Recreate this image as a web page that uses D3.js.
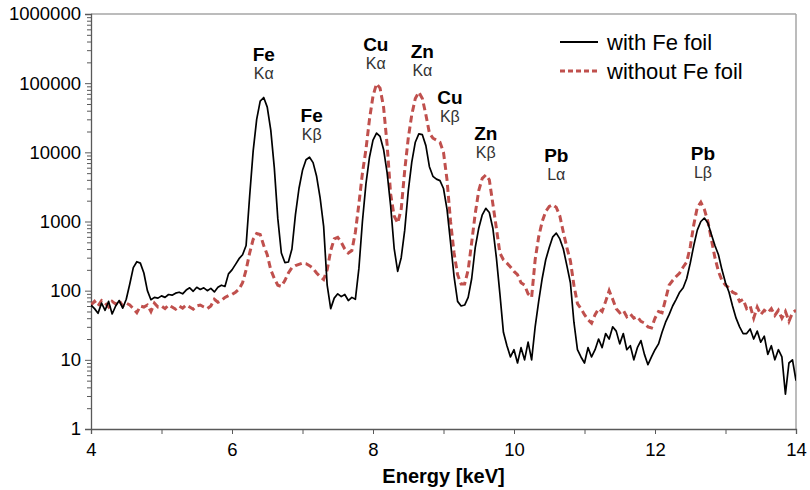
<!DOCTYPE html>
<html>
<head>
<meta charset="utf-8">
<script src="https://cdn.jsdelivr.net/npm/d3@7"></script>
<style>
  body { margin: 0; background: #fff; }
  svg { font-family: "Liberation Sans", Arial, sans-serif; }
  .tick text { fill: #000; }
</style>
</head>
<body>
<div id="chart"></div>
<script>
// energy grid, keV
const energy = [
  4.00, 4.05, 4.10, 4.15, 4.20, 4.25, 4.30, 4.35, 4.40, 4.45,
  4.50, 4.55, 4.60, 4.65, 4.70, 4.75, 4.80, 4.85, 4.90, 4.95,
  5.00, 5.05, 5.10, 5.15, 5.20, 5.25, 5.30, 5.35, 5.40, 5.45,
  5.50, 5.55, 5.60, 5.65, 5.70, 5.75, 5.80, 5.85, 5.90, 5.95,
  6.00, 6.05, 6.10, 6.15, 6.20, 6.25, 6.30, 6.35, 6.40, 6.45,
  6.50, 6.55, 6.60, 6.65, 6.70, 6.75, 6.80, 6.85, 6.90, 6.95,
  7.00, 7.05, 7.10, 7.15, 7.20, 7.25, 7.30, 7.35, 7.40, 7.45,
  7.50, 7.55, 7.60, 7.65, 7.70, 7.75, 7.80, 7.85, 7.90, 7.95,
  8.00, 8.05, 8.10, 8.15, 8.20, 8.25, 8.30, 8.35, 8.40, 8.45,
  8.50, 8.55, 8.60, 8.65, 8.70, 8.75, 8.80, 8.85, 8.90, 8.95,
  9.00, 9.05, 9.10, 9.15, 9.20, 9.25, 9.30, 9.35, 9.40, 9.45,
  9.50, 9.55, 9.60, 9.65, 9.70, 9.75, 9.80, 9.85, 9.90, 9.95,
  10.00, 10.05, 10.10, 10.15, 10.20, 10.25, 10.30, 10.35, 10.40, 10.45,
  10.50, 10.55, 10.60, 10.65, 10.70, 10.75, 10.80, 10.85, 10.90, 10.95,
  11.00, 11.05, 11.10, 11.15, 11.20, 11.25, 11.30, 11.35, 11.40, 11.45,
  11.50, 11.55, 11.60, 11.65, 11.70, 11.75, 11.80, 11.85, 11.90, 11.95,
  12.00, 12.05, 12.10, 12.15, 12.20, 12.25, 12.30, 12.35, 12.40, 12.45,
  12.50, 12.55, 12.60, 12.65, 12.70, 12.75, 12.80, 12.85, 12.90, 12.95,
  13.00, 13.05, 13.10, 13.15, 13.20, 13.25, 13.30, 13.35, 13.40, 13.45,
  13.50, 13.55, 13.60, 13.65, 13.70, 13.75, 13.80, 13.85, 13.90, 13.95,
  14.00
];

// counts with Fe foil
const withFoil = [
  62, 55, 47, 66, 52, 70, 46, 60, 72, 56,
  75, 125, 215, 262, 250, 180, 100, 74, 80, 78,
  84, 80, 88, 86, 92, 95, 90, 102, 110, 98,
  112, 104, 110, 100, 108, 96, 112, 120, 115, 175,
  200, 240, 290, 330, 450, 2300, 10400, 30000, 55000, 62000,
  45000, 21000, 6000, 1100, 350, 255, 260, 400, 1260, 3000,
  5500, 7800, 8500, 7100, 4500, 2200, 850, 120, 55, 78,
  90, 82, 88, 72, 80, 75, 210, 1000, 3500, 8500,
  15000, 19000, 17000, 11000, 5100, 1700, 410, 190, 300, 750,
  2750, 7200, 14000, 18500, 18000, 12500, 6200, 4500, 4100, 3900,
  3000, 1500, 500, 160, 70, 60, 62, 80, 150, 420,
  800, 1250, 1550, 1350, 800, 300, 90, 25, 16, 11,
  14, 9, 15, 10, 18, 10, 30, 70, 150, 280,
  420, 600, 680, 560, 400, 230, 130, 35, 14, 11,
  9, 15, 11, 14, 20, 15, 24, 20, 30, 26,
  17, 24, 14, 16, 10, 15, 19, 12, 8.5, 11,
  14, 17, 25, 35, 45, 60, 75, 95, 110, 150,
  250, 450, 750, 1000, 1120, 950, 650, 450, 330, 200,
  130, 95, 60, 40, 30, 24, 24, 28, 20, 26,
  18, 22, 12, 16, 10, 14, 11, 3.2, 9, 10,
  5
];

// counts without Fe foil
const withoutFoil = [
  62, 70, 60, 72, 66, 58, 70, 64, 72, 60,
  66, 62, 55, 48, 60, 58, 62, 50, 66, 58,
  60, 55, 62, 58, 54, 60, 56, 62, 58, 54,
  60, 62, 58, 55, 60, 75, 68, 72, 80, 85,
  88, 95, 105, 130, 200, 350, 550, 670, 650, 450,
  330, 200, 150, 120, 115, 140, 180, 215, 230, 240,
  250, 245, 230, 210, 180, 160, 145, 200, 380, 560,
  590, 500, 400, 350, 380, 700, 1800, 5000, 11000, 30000,
  65000, 98000, 85000, 45000, 13000, 2500, 1200, 950, 1500, 5500,
  16000, 35000, 60000, 74000, 60000, 35000, 19000, 16000, 15000, 14000,
  10000, 4000, 1000, 350, 170, 125, 125, 200, 500, 1300,
  2800, 4200, 4700, 4000, 1800, 800, 350, 280, 250, 220,
  190, 170, 130, 120, 90, 80, 280, 600, 1000, 1400,
  1650, 1750, 1600, 1200, 700, 420, 270, 120, 65, 55,
  45, 38, 34, 45, 55, 50, 70, 100, 75, 55,
  48, 52, 42, 46, 40, 42, 36, 34, 30, 29,
  40, 50, 48, 75, 120, 140, 160, 180, 220, 260,
  430, 900, 1600, 1900, 1500, 1000, 550, 300, 190, 140,
  120, 110, 95, 90, 70, 75, 55, 60, 40, 58,
  45, 52, 48, 55, 44, 52, 40, 50, 36, 48,
  52
];

// peak annotations
const peakElements = ["Fe", "Fe", "Cu", "Zn", "Cu", "Zn", "Pb", "Pb"];
const peakLines = ["K\u03b1", "K\u03b2", "K\u03b1", "K\u03b1", "K\u03b2", "K\u03b2", "L\u03b1", "L\u03b2"];
const peakLabelEnergy = [6.45, 7.13, 8.04, 8.70, 9.09, 9.60, 10.60, 12.68];
const peakLabelCounts = [208000, 27300, 290000, 230000, 49700, 15000, 7200, 7700];

const yTicks = [1, 10, 100, 1000, 10000, 100000, 1000000];
const xTicks = [4, 6, 8, 10, 12, 14];
const xMinorTicks = [5, 7, 9, 11, 13];

const seriesNames = ["with Fe foil", "without Fe foil"];

const W = 810, H = 490;
const margin = { top: 14, right: 14, bottom: 61, left: 91 };

const svg = d3.select("#chart").append("svg")
    .attr("width", W)
    .attr("height", H);

const x = d3.scaleLinear().domain([4, 14]).range([margin.left, W - margin.right]);
const y = d3.scaleLog().domain([1, 1000000]).range([H - margin.bottom, margin.top]);

// minor log ticks
let yMinor = [];
yTicks.slice(0, -1).forEach(d => {
    for (let k = 2; k <= 9; k++) yMinor.push(d * k);
});

// plot frame (top + right, light grey)
svg.append("line")
    .attr("x1", x(4)).attr("x2", x(14))
    .attr("y1", y(1000000)).attr("y2", y(1000000))
    .attr("stroke", "#a6a6a6").attr("stroke-width", 1.5);
svg.append("line")
    .attr("x1", x(14)).attr("x2", x(14))
    .attr("y1", y(1000000)).attr("y2", y(1))
    .attr("stroke", "#a6a6a6").attr("stroke-width", 1.5);

// y axis
svg.append("g")
    .attr("transform", "translate(" + margin.left + ",0)")
    .call(d3.axisLeft(y).tickValues(yTicks).tickFormat(d3.format("d")).tickSize(6).tickPadding(4));
svg.append("g")
    .attr("transform", "translate(" + margin.left + ",0)")
    .call(d3.axisLeft(y).tickValues(yMinor).tickFormat("").tickSize(4))
    .call(g => g.select(".domain").remove());

// x axis
svg.append("g")
    .attr("transform", "translate(0," + (H - margin.bottom) + ")")
    .call(d3.axisBottom(x).tickValues(xTicks).tickSize(5).tickPadding(9));
svg.append("g")
    .attr("transform", "translate(0," + (H - margin.bottom) + ")")
    .call(d3.axisBottom(x).tickValues(xMinorTicks).tickFormat("").tickSize(5))
    .call(g => g.select(".domain").remove());

svg.selectAll(".domain").attr("stroke", "#595959").attr("stroke-width", 1.3);
svg.selectAll(".tick line").attr("stroke", "#595959");
svg.selectAll(".tick text").style("font-size", "18.5px");

svg.append("text")
    .attr("x", (x(4) + x(14)) / 2)
    .attr("y", 483)
    .attr("text-anchor", "middle")
    .style("font-size", "20px")
    .style("font-weight", "bold")
    .text("Energy [keV]");

// clip
svg.append("clipPath").attr("id", "plotClip")
    .append("rect")
    .attr("x", x(4)).attr("y", y(1000000))
    .attr("width", x(14) - x(4)).attr("height", y(1) - y(1000000));

const line = d3.line()
    .x((d, i) => x(energy[i]))
    .y(d => y(d));

svg.append("path")
    .datum(withoutFoil)
    .attr("clip-path", "url(#plotClip)")
    .attr("fill", "none")
    .attr("stroke", "#c0504d")
    .attr("stroke-width", 3)
    .attr("stroke-dasharray", "7,4")
    .attr("d", line);

svg.append("path")
    .datum(withFoil)
    .attr("clip-path", "url(#plotClip)")
    .attr("fill", "none")
    .attr("stroke", "#000")
    .attr("stroke-width", 1.7)
    .attr("stroke-linejoin", "round")
    .attr("d", line);

// peak labels
peakElements.forEach((el, i) => {
    const px = x(peakLabelEnergy[i]), py = y(peakLabelCounts[i]);
    svg.append("text")
        .attr("x", px).attr("y", py)
        .attr("text-anchor", "middle")
        .style("font-size", "19px")
        .style("font-weight", "bold")
        .text(el);
    svg.append("text")
        .attr("x", px).attr("y", py + 18)
        .attr("text-anchor", "middle")
        .style("font-size", "16px")
        .attr("fill", "#333")
        .text(peakLines[i]);
});

// legend
const legend = svg.append("g").attr("transform", "translate(560,42)");
seriesNames.forEach((name, i) => {
    const row = legend.append("g").attr("transform", "translate(0," + i * 29 + ")");
    row.append("line")
        .attr("x1", 0).attr("x2", 38)
        .attr("stroke", i === 0 ? "#000" : "#c0504d")
        .attr("stroke-width", i === 0 ? 2 : 3)
        .attr("stroke-dasharray", i === 0 ? null : "5,3");
    row.append("text")
        .attr("x", 47).attr("y", 8)
        .style("font-size", "22px")
        .text(name);
});
</script>
</body>
</html>
